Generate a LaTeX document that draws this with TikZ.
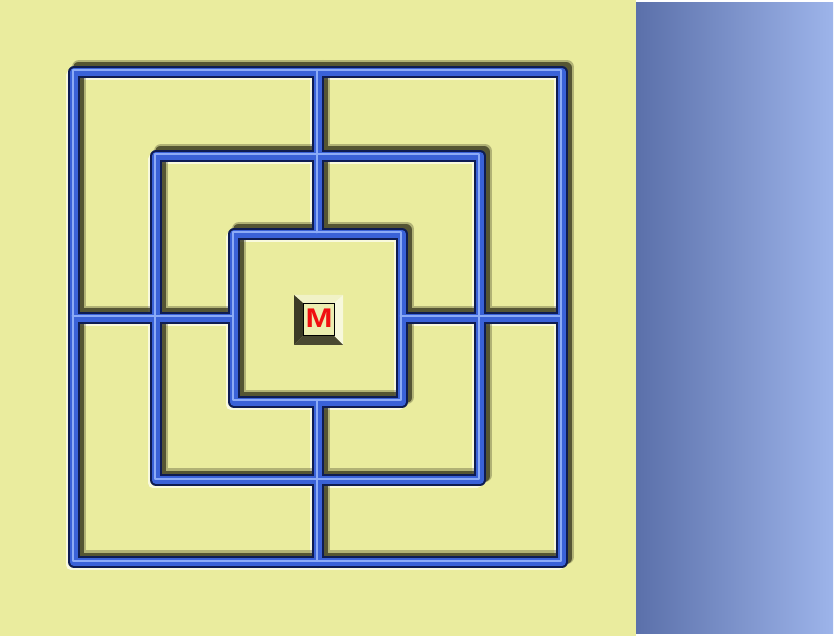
\documentclass[tikz,border=0pt]{standalone}
\usepackage{fontspec}
\newfontfamily\btnfont{Liberation Sans}
\usepackage{xcolor}
\definecolor{boardbg}{HTML}{EAEC9E}
\definecolor{panelL}{HTML}{5B70AA}
\definecolor{panelR}{HTML}{9DB4EA}
\definecolor{groove}{HTML}{0E1C52}
\definecolor{lineblue}{HTML}{3A62D8}
\definecolor{lineshine}{HTML}{8CABF6}
\definecolor{dropshadow}{HTML}{2E2E18}
\definecolor{glowlight}{HTML}{FBFCE4}
\definecolor{bevlight}{HTML}{F1F2C6}
\definecolor{bevlighter}{HTML}{F7F8DC}
\definecolor{bevdark}{HTML}{3C3B26}
\definecolor{bevdarker}{HTML}{4A4931}
\definecolor{btnface}{HTML}{ECEEB0}
\definecolor{btnred}{HTML}{F01010}

\tikzset{
  millpath/.style={insert path={
    (74,72) rectangle (562,562)
    (156,156) rectangle (480,480)
    (234,234) rectangle (402,402)
    (318,72) -- (318,234) (318,402) -- (318,562)
    (74,318) -- (234,318) (402,318) -- (562,318)}},
  boardline/.style={line join=round, line cap=round}
}

\begin{document}
\begin{tikzpicture}[x=1pt, y=-1pt]
    \useasboundingbox (0,0) rectangle (836,636);
    \fill[white] (0,0) rectangle (836,636);
    \fill[boardbg] (0,0) rectangle (636,636);
    \shade[left color=panelL, right color=panelR] (636,3) rectangle (833,633);
    \draw[shift={(-3,3)}, boardline, draw=glowlight, opacity=0.9, line width=10, millpath];
    \draw[shift={(5,-5)}, boardline, draw=dropshadow, opacity=0.3, line width=14, millpath];
    \draw[shift={(4,-4)}, boardline, draw=dropshadow, opacity=0.7, line width=11, millpath];
    \draw[boardline, draw=groove, line width=12, millpath];
    \draw[boardline, draw=lineblue, line width=8, millpath];
    \draw[shift={(-1.5,-1.5)}, boardline, draw=lineshine, line width=2, millpath];
    \fill[bevlight] (294,295) -- (343,295) -- (334,303) -- (303,303) -- cycle;
    \fill[bevlighter] (343,295) -- (343,345) -- (334,336) -- (334,303) -- cycle;
    \fill[bevdarker] (294,345) -- (343,345) -- (334,336) -- (303,336) -- cycle;
    \fill[bevdark] (294,295) -- (303,303) -- (303,336) -- (294,345) -- cycle;
    \filldraw[fill=btnface, draw=black, line width=1] (303.5,303.5) rectangle (334,336);
    \node[text=btnred, inner sep=0] (mark) at (319,318)
        {\btnfont\bfseries\fontsize{27}{27}\selectfont\scalebox{1.2}[1]{M}};
\end{tikzpicture}
\end{document}
